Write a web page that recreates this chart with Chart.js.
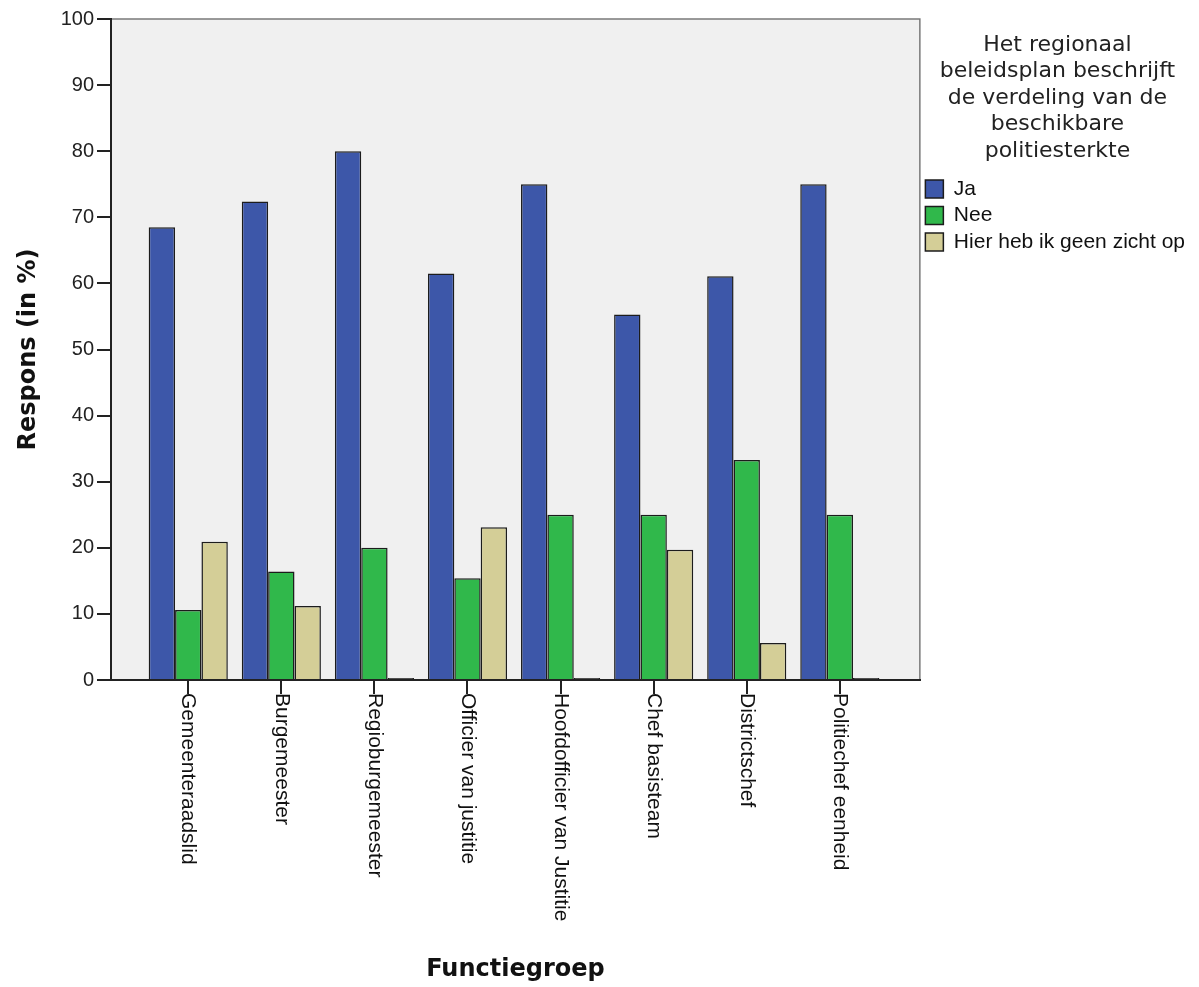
<!DOCTYPE html>
<html>
<head>
<meta charset="utf-8">
<script src="https://cdn.jsdelivr.net/npm/chart.js@4"></script>
<style>
  body { margin: 0; background: #fff; }
  #wrap { width: 1199px; height: 987px; position: relative; }
</style>
</head>
<body>
<div id="wrap"><canvas id="responsChart"></canvas></div>
<script>
// data
const categories = ['Gemeenteraadslid', 'Burgemeester', 'Regioburgemeester', 'Officier van justitie',
    'Hoofdofficier van Justitie', 'Chef basisteam', 'Districtschef', 'Politiechef eenheid'];
const seriesNames = ['Ja', 'Nee', 'Hier heb ik geen zicht op'];
const jaValues = [68.5, 72.4, 80.0, 61.5, 75.0, 55.3, 61.1, 75.0];
const neeValues = [10.6, 16.4, 20.0, 15.4, 25.0, 25.0, 33.3, 25.0];
const geenZichtValues = [20.9, 11.2, 0, 23.1, 0, 19.7, 5.6, 0];
const yTicks = [0, 10, 20, 30, 40, 50, 60, 70, 80, 90, 100];
const legendTitle = ['Het regionaal', 'beleidsplan beschrijft', 'de verdeling van de', 'beschikbare', 'politiesterkte'];

const sansFont = '"Liberation Sans", Arial, sans-serif';
const wideFont = '"DejaVu Sans", Verdana, sans-serif';

function toPoints(values) {
    return values.map((v, i) => ({ x: i, y: v }));
}

// empty bars show up as a black stripe on the axis, like SPSS does
function barColor(fill) {
    return (c) => (c.raw && c.raw.y === 0 ? '#1c1c1c' : fill);
}

// grey plot background + frame, and the category labels turned 90deg clockwise
const plotFrame = {
    id: 'plotFrame',
    beforeDraw(chart) {
        const { ctx, chartArea: a } = chart;
        ctx.save();
        ctx.fillStyle = '#f0f0f0';
        ctx.fillRect(a.left, a.top, a.right - a.left, a.bottom - a.top);
        ctx.strokeStyle = '#7a7a7a';
        ctx.lineWidth = 1.5;
        ctx.beginPath();
        ctx.moveTo(a.left, a.top);
        ctx.lineTo(a.right, a.top);
        ctx.lineTo(a.right, a.bottom);
        ctx.stroke();
        ctx.restore();
    },
    afterDraw(chart) {
        const ctx = chart.ctx;
        const xScale = chart.scales.x;
        ctx.save();
        ctx.font = '21px ' + sansFont;
        ctx.fillStyle = '#111';
        ctx.textAlign = 'left';
        ctx.textBaseline = 'middle';
        categories.forEach((label, i) => {
            ctx.save();
            ctx.translate(xScale.getPixelForValue(i), xScale.top + 13);
            ctx.rotate(Math.PI / 2);
            ctx.fillText(label, 0, 0);
            ctx.restore();
        });
        ctx.restore();
    }
};

const ctx = document.getElementById('responsChart').getContext('2d');
new Chart(ctx, {
    type: 'bar',
    data: {
        datasets: [
            { label: seriesNames[0], data: toPoints(jaValues), backgroundColor: '#3d57a9' },
            { label: seriesNames[1], data: toPoints(neeValues), backgroundColor: '#30b84b' },
            { label: seriesNames[2], data: toPoints(geenZichtValues), backgroundColor: barColor('#d4ce97') }
        ]
    },
    options: {
        responsive: true,
        maintainAspectRatio: false,
        animation: false,
        layout: { padding: { top: 19, right: 4, bottom: 0, left: 0 } },
        datasets: {
            bar: {
                categoryPercentage: 0.85,
                barPercentage: 1.0,
                minBarLength: 2,
                borderColor: '#1c1c1c',
                borderWidth: 1.5
            }
        },
        scales: {
            x: {
                type: 'linear',
                offset: false,
                min: -0.83,
                max: 7.86,
                ticks: { display: false, stepSize: 1, includeBounds: false },
                grid: { offset: false, drawOnChartArea: false, tickLength: 14, color: '#222', lineWidth: 2 },
                border: { display: true, color: '#222', width: 2 },
                title: {
                    display: true,
                    text: 'Functiegroep',
                    color: '#111',
                    font: { family: wideFont, size: 24, weight: 'bold' },
                    padding: { top: 0, bottom: 3 }
                },
                afterFit(scale) { scale.height = 307; }
            },
            y: {
                min: yTicks[0],
                max: yTicks[yTicks.length - 1],
                ticks: {
                    stepSize: yTicks[1] - yTicks[0],
                    padding: 3,
                    color: '#222',
                    font: { family: sansFont, size: 20 }
                },
                grid: { drawOnChartArea: false, tickLength: 14, color: '#222', lineWidth: 2 },
                border: { display: true, color: '#222', width: 2 },
                title: {
                    display: true,
                    text: 'Respons (in %)',
                    color: '#111',
                    font: { family: wideFont, size: 24, weight: 'bold' },
                    padding: { top: 14, bottom: 0 }
                },
                afterFit(scale) { scale.width = 111; }
            }
        },
        plugins: {
            legend: {
                position: 'right',
                align: 'start',
                labels: {
                    boxWidth: 18,
                    boxHeight: 18,
                    padding: 5.5,
                    color: '#111',
                    font: { family: sansFont, size: 21 }
                },
                title: {
                    display: true,
                    text: legendTitle,
                    color: '#222',
                    font: { family: wideFont, size: 22, lineHeight: 1.2045 },
                    padding: { top: 15, bottom: 112.5 }
                }
            },
            tooltip: { enabled: false }
        }
    },
    plugins: [plotFrame]
});
</script>
</body>
</html>
